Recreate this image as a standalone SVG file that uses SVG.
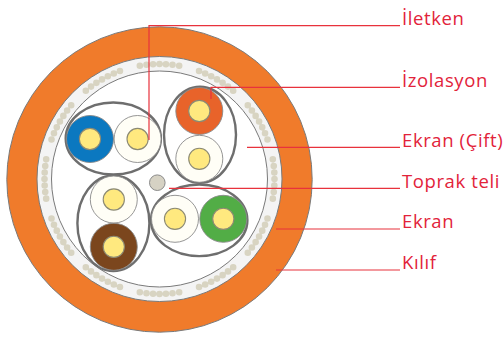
<svg xmlns="http://www.w3.org/2000/svg" width="503" height="338" viewBox="0 0 503 338">
  <style>
    .shield { fill: #ffffff; stroke: #6e6e6e; stroke-width: 2.4; }
    .ins { stroke: #8a8a8a; stroke-width: 0.9; }
    .white { fill: #fffef6; }
    .core { fill: #ffe97f; stroke: #8c8a74; stroke-width: 1.1; }
    .lead { fill: none; stroke: #e8323c; stroke-width: 1.2; }
    .label { font-family: "Open Sans", "Noto Sans", sans-serif; font-size: 18.5px; letter-spacing: 0.6px; fill: #e2233a; }
  </style>

  <!-- outer sheath -->
  <g id="sheath">
    <circle cx="159.5" cy="179.5" r="152.7" fill="#f07b2b" stroke="#7a7a7a" stroke-width="1"/>
    <circle cx="159.5" cy="179" r="122.5" fill="#f4f4f4" stroke="#7a7a7a" stroke-width="1"/>
  </g>

  <!-- braided overall screen: 12 clusters of 7 strands -->
  <g id="screen">
    <circle cx="159.5" cy="179" r="115" fill="none" stroke="#d8d4c2" stroke-width="6.6"
            stroke-linecap="round" pathLength="1200"
            stroke-dasharray="0 10.96 0 10.96 0 10.96 0 10.96 0 10.96 0 10.96 0 34.24"
            stroke-dashoffset="32.88"/>
    <circle cx="159.5" cy="179" r="108" fill="#ffffff" stroke="#7a7a7a" stroke-width="1"/>
  </g>

  <!-- pair 1: blue / white -->
  <g id="pair-blue">
    <ellipse class="shield" cx="113.3" cy="138.5" rx="47.6" ry="36"/>
    <circle class="ins" cx="90" cy="139" r="23.5" fill="#0b78c0"/>
    <circle class="core" cx="90" cy="139" r="10.6"/>
    <circle class="ins white" cx="137.6" cy="139" r="23.5"/>
    <circle class="core" cx="137.6" cy="139" r="10.6"/>
  </g>

  <!-- pair 2: orange / white -->
  <g id="pair-orange">
    <ellipse class="shield" cx="200" cy="134.8" rx="36" ry="48"/>
    <circle class="ins" cx="199.3" cy="111" r="23.5" fill="#e8632a"/>
    <circle class="core" cx="199.3" cy="111" r="10.6"/>
    <circle class="ins white" cx="199.3" cy="158.8" r="23.5"/>
    <circle class="core" cx="199.3" cy="158.8" r="10.6"/>
  </g>

  <!-- pair 3: white / brown -->
  <g id="pair-brown">
    <ellipse class="shield" cx="113.4" cy="223.3" rx="36" ry="47.8"/>
    <circle class="ins white" cx="113.8" cy="199.5" r="23.5"/>
    <circle class="core" cx="113.8" cy="199.5" r="10.6"/>
    <circle class="ins" cx="113.8" cy="246.8" r="23.5" fill="#7b461d"/>
    <circle class="core" cx="113.8" cy="246.8" r="10.6"/>
  </g>

  <!-- pair 4: white / green -->
  <g id="pair-green">
    <ellipse class="shield" cx="199.2" cy="220.3" rx="48.2" ry="35.8"/>
    <circle class="ins white" cx="175" cy="218.8" r="23.5"/>
    <circle class="core" cx="175" cy="218.8" r="10.6"/>
    <circle class="ins" cx="223.3" cy="218.8" r="23.5" fill="#52ad46"/>
    <circle class="core" cx="223.3" cy="218.8" r="10.6"/>
  </g>

  <!-- drain wire -->
  <g id="drain">
    <circle cx="157.3" cy="182.7" r="7.8" fill="#d6d2c4" stroke="#8a8a8a" stroke-width="1"/>
  </g>

  <!-- leader lines -->
  <g id="connectors">
    <polyline class="lead" points="149,140 149,25.7 400,25.7"/>
    <polyline class="lead" points="211,99 211,87.3 400,87.3"/>
    <line class="lead" x1="247" y1="147.3" x2="400" y2="147.3"/>
    <line class="lead" x1="169" y1="188.3" x2="400" y2="188.3"/>
    <line class="lead" x1="276" y1="229" x2="400" y2="229"/>
    <line class="lead" x1="276" y1="270" x2="400" y2="270"/>
  </g>

  <!-- labels -->
  <g id="labels">
    <text class="label" x="402" y="25.3">İletken</text>
    <text class="label" x="402" y="87.3">İzolasyon</text>
    <text class="label" x="402" y="146.8">Ekran (Çift)</text>
    <text class="label" x="402" y="187.5">Toprak teli</text>
    <text class="label" x="402" y="228.4">Ekran</text>
    <text class="label" x="402" y="269">Kılıf</text>
  </g>
</svg>
